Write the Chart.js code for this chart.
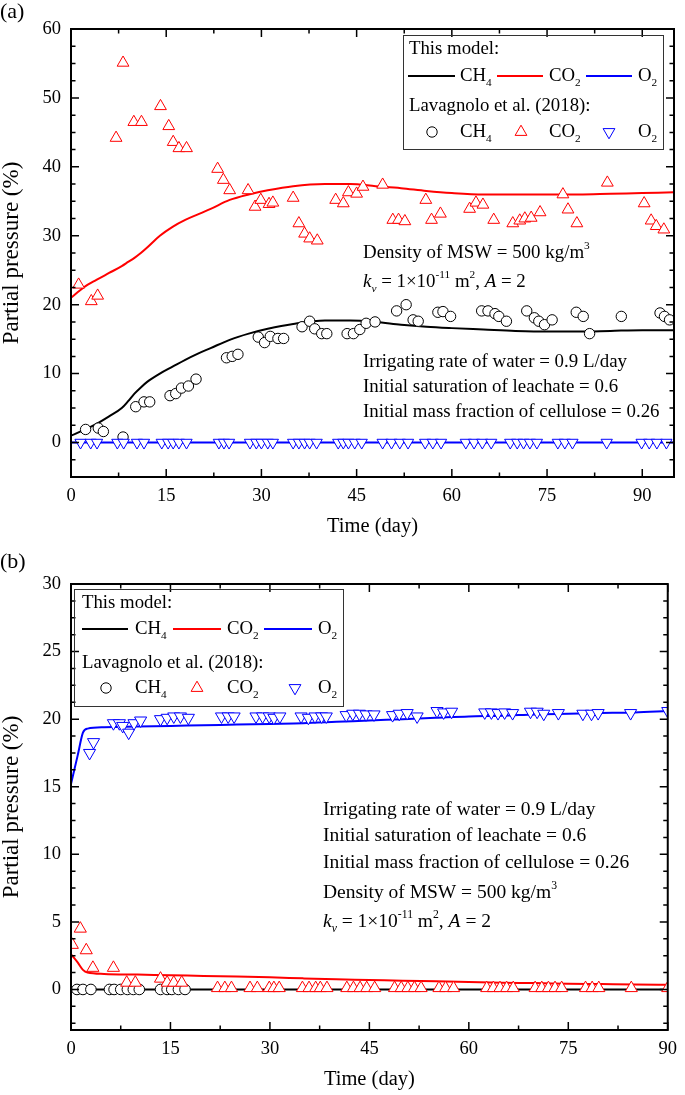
<!DOCTYPE html>
<html>
<head>
<meta charset="utf-8">
<script src="https://cdn.jsdelivr.net/npm/chart.js@4.4.1/dist/chart.umd.min.js"></script>
<style>
  html, body { margin: 0; padding: 0; background: #fff; }
  canvas { display: block; }
</style>
</head>
<body>
<canvas id="chartA" width="685" height="548"></canvas>
<canvas id="chartB" width="685" height="547"></canvas>
<script>
// ---------- panel (a) ----------
const aXTicks = [0, 15, 30, 45, 60, 75, 90];
const aYTicks = [0, 10, 20, 30, 40, 50, 60];

const aModelDays = [0, 2, 4, 6, 8, 9, 10, 11, 12, 14, 16, 18, 20, 22, 25, 28, 31, 35, 40, 44, 48, 52, 56, 60, 65, 70, 75, 80, 85, 90, 95];
const aModelCH4 = [1.0, 1.8, 2.7, 3.8, 5.0, 6.0, 7.1, 8.0, 8.8, 10.0, 11.0, 12.0, 12.9, 13.7, 14.9, 15.8, 16.5, 17.2, 17.7, 17.7, 17.5, 17.1, 16.8, 16.6, 16.4, 16.2, 16.1, 16.1, 16.2, 16.3, 16.3];
const aModelCO2 = [21.0, 22.5, 23.6, 24.6, 25.6, 26.2, 26.8, 27.5, 28.3, 30.0, 31.3, 32.3, 33.1, 33.9, 35.2, 36.0, 36.6, 37.2, 37.5, 37.5, 37.2, 36.9, 36.5, 36.2, 36.0, 36.0, 36.0, 36.0, 36.1, 36.2, 36.3];
const aModelO2Days = [0, 95];
const aModelO2 = [0, 0];

const aCH4Days = [2.3, 4.3, 5.1, 8.2, 10.2, 11.5, 12.4, 15.6, 16.5, 17.4, 18.5, 19.7, 24.5, 25.4, 26.3, 29.5, 30.5, 31.4, 32.6, 33.5, 36.4, 37.6, 38.4, 39.5, 40.3, 43.5, 44.5, 45.5, 46.5, 47.9, 51.3, 52.8, 53.9, 54.7, 57.8, 58.6, 59.8, 64.7, 65.7, 66.8, 67.4, 68.6, 71.8, 73.0, 73.7, 74.6, 75.8, 79.6, 80.7, 81.7, 86.7, 92.8, 93.5, 94.3];
const aCH4Vals = [1.9, 2.1, 1.6, 0.8, 5.2, 5.9, 5.9, 6.8, 7.1, 7.9, 8.2, 9.2, 12.3, 12.5, 12.8, 15.3, 14.5, 15.4, 15.1, 15.1, 16.8, 17.6, 16.5, 15.8, 15.8, 15.8, 15.8, 16.4, 17.3, 17.5, 19.1, 20.0, 17.8, 17.6, 18.9, 19.0, 18.3, 19.1, 19.1, 18.7, 18.3, 17.6, 19.1, 18.1, 17.6, 17.1, 17.8, 18.9, 18.3, 15.8, 18.3, 18.8, 18.3, 17.8];

const aCO2Days = [1.2, 3.2, 4.2, 7.1, 8.2, 9.9, 11.1, 14.1, 15.4, 16.1, 17.0, 18.2, 23.1, 24.0, 25.0, 27.9, 29.0, 29.9, 31.2, 31.8, 35.0, 35.9, 36.8, 37.6, 38.8, 41.7, 42.9, 43.7, 45.0, 46.0, 49.1, 50.7, 51.6, 52.6, 55.9, 56.8, 58.2, 62.8, 63.8, 64.9, 66.6, 69.6, 70.7, 71.5, 72.5, 73.9, 77.5, 78.3, 79.7, 84.5, 90.3, 91.4, 92.2, 93.4];
const aCO2Vals = [22.9, 20.5, 21.3, 44.2, 55.1, 46.5, 46.5, 48.8, 45.9, 43.6, 42.7, 42.7, 39.7, 38.1, 36.6, 36.6, 34.2, 35.2, 34.6, 34.8, 35.5, 31.8, 30.3, 29.6, 29.3, 35.2, 34.7, 36.3, 36.1, 37.1, 37.4, 32.3, 32.3, 32.1, 35.2, 32.3, 33.2, 33.9, 34.8, 34.5, 32.3, 31.8, 32.2, 32.5, 32.6, 33.4, 36.0, 33.8, 31.8, 37.7, 34.7, 32.2, 31.4, 30.9];

const aO2Days = [1.5, 3.1, 4.1, 7.3, 8.3, 10.4, 11.5, 14.3, 15.3, 16.1, 17.0, 18.2, 23.3, 24.1, 24.9, 28.2, 29.2, 30.0, 31.0, 31.8, 35.0, 35.9, 36.8, 37.6, 38.7, 42.1, 42.9, 43.7, 44.7, 45.8, 49.1, 50.5, 51.8, 53.1, 55.8, 57.0, 58.3, 62.2, 63.5, 64.8, 66.2, 69.2, 70.3, 71.3, 72.3, 73.4, 76.7, 77.8, 79.0, 84.4, 89.9, 91.1, 92.3, 93.8];
const aO2Vals = [0, 0, 0, 0, 0, 0, 0, 0, 0, 0, 0, 0, 0, 0, 0, 0, 0, 0, 0, 0, 0, 0, 0, 0, 0, 0, 0, 0, 0, 0, 0, 0, 0, 0, 0, 0, 0, 0, 0, 0, 0, 0, 0, 0, 0, 0, 0, 0, 0, 0, 0, 0, 0, 0];

// ---------- panel (b) ----------
const bXTicks = [0, 15, 30, 45, 60, 75, 90];
const bYTicks = [0, 5, 10, 15, 20, 25, 30];

const bModelDays = [0, 1, 1.8, 2.5, 5, 10, 15, 20, 25, 30, 35, 40, 45, 50, 55, 60, 65, 70, 75, 80, 85, 90];
const bModelO2 = [15.2, 17.3, 19.0, 19.3, 19.4, 19.45, 19.5, 19.55, 19.6, 19.65, 19.7, 19.8, 19.9, 20.0, 20.1, 20.2, 20.25, 20.35, 20.4, 20.45, 20.5, 20.6];
const bModelCO2 = [2.6, 2.0, 1.45, 1.25, 1.15, 1.1, 1.05, 1.0, 0.95, 0.9, 0.82, 0.75, 0.7, 0.64, 0.6, 0.55, 0.5, 0.47, 0.43, 0.4, 0.37, 0.35];
const bModelCH4Days = [0, 90];
const bModelCH4 = [0, 0];

const bO2Days = [2.8, 3.4, 6.4, 7.3, 7.8, 8.7, 9.5, 10.5, 13.5, 14.5, 15.5, 16.5, 17.7, 22.7, 23.7, 24.6, 27.9, 28.9, 29.9, 30.6, 31.5, 34.7, 35.8, 36.8, 37.8, 38.5, 41.5, 42.5, 43.5, 44.5, 45.7, 48.5, 49.5, 50.7, 52.2, 55.2, 56.2, 57.4, 62.4, 63.4, 64.4, 65.4, 66.6, 69.3, 70.3, 71.3, 73.5, 77.2, 78.5, 79.5, 84.4, 90.0];
const bO2Vals = [17.5, 18.3, 19.7, 19.7, 19.5, 19.0, 19.7, 19.9, 20.0, 20.1, 20.2, 20.2, 20.1, 20.2, 20.2, 20.2, 20.2, 20.2, 20.2, 20.1, 20.2, 20.2, 20.1, 20.2, 20.2, 20.2, 20.3, 20.4, 20.4, 20.35, 20.35, 20.3, 20.4, 20.45, 20.2, 20.6, 20.5, 20.55, 20.5, 20.5, 20.45, 20.5, 20.45, 20.55, 20.55, 20.4, 20.45, 20.4, 20.4, 20.45, 20.45, 20.6];

const bCO2Days = [0.2, 1.4, 2.3, 3.3, 6.4, 8.4, 9.7, 13.5, 14.5, 15.5, 16.7, 22.1, 23.2, 24.2, 27.0, 28.1, 29.9, 30.6, 31.4, 34.9, 35.9, 36.9, 37.6, 38.6, 41.6, 42.6, 43.6, 44.6, 45.8, 48.8, 49.8, 50.8, 51.8, 52.8, 55.5, 56.5, 57.7, 62.7, 63.7, 64.7, 65.7, 66.7, 70.0, 71.0, 72.0, 73.0, 74.0, 77.6, 78.6, 79.6, 84.5, 90.0];
const bCO2Vals = [3.3, 4.5, 2.9, 1.6, 1.6, 0.5, 0.5, 0.8, 0.5, 0.5, 0.5, 0.1, 0.1, 0.1, 0.1, 0.1, 0.1, 0.1, 0.1, 0.1, 0.1, 0.1, 0.1, 0.1, 0.1, 0.1, 0.1, 0.1, 0.1, 0.1, 0.1, 0.1, 0.1, 0.1, 0.1, 0.1, 0.1, 0.1, 0.1, 0.1, 0.1, 0.1, 0.1, 0.1, 0.1, 0.1, 0.1, 0.1, 0.1, 0.1, 0.1, 0.1];

const bCH4Days = [0.9, 1.8, 3.0, 5.8, 6.5, 7.5, 8.5, 9.4, 10.3, 13.5, 14.5, 15.2, 16.2, 17.2];
const bCH4Vals = [0, 0, 0, 0, 0, 0, 0, 0, 0, 0, 0, 0, 0, 0];

const SERIF = '"Liberation Serif", "Times New Roman", serif';

function pts(xs, ys){ return xs.map((x, i) => ({ x, y: ys[i] })); }

// draw a run of text pieces: [text, kind] kind = '' | 'i' | 'sub' | 'sup' | 'isub'
function drawRich(ctx, x, y, parts, size){
  let cx = x;
  parts.forEach(([t, k]) => {
    const small = (k === 'sub' || k === 'sup' || k === 'isub');
    const fs = small ? size * 0.6 : size;
    const italic = (k === 'i' || k === 'isub');
    ctx.font = (italic ? 'italic ' : '') + fs + 'px ' + SERIF;
    let dy = 0;
    if(k === 'sub' || k === 'isub') dy = size * 0.38;
    if(k === 'sup') dy = -size * 0.38;
    ctx.fillText(t, cx, y + dy);
    cx += ctx.measureText(t).width;
  });
}

function drawMarker(ctx, style, x, y){
  ctx.beginPath();
  if(style === 'circle'){
    ctx.arc(x, y, 5.2, 0, Math.PI * 2);
  } else {
    const r = 6.8, s = style === 'down' ? -1 : 1;
    ctx.moveTo(x, y - s * r);
    ctx.lineTo(x + r * 0.866, y + s * r / 2);
    ctx.lineTo(x - r * 0.866, y + s * r / 2);
    ctx.closePath();
  }
  ctx.fill(); ctx.stroke();
}

// frame round the plot with inward major + minor ticks on all four sides
const frameTicks = {
  id: 'frameTicks',
  afterDatasetsDraw(chart, args, o){
    const { ctx, chartArea: a } = chart;
    const xs = chart.scales.x, ys = chart.scales.y;
    ctx.save();
    ctx.strokeStyle = '#000';
    ctx.lineWidth = 1.5;
    ctx.beginPath();
    const isMajor = (v, m) => Math.abs(v / m - Math.round(v / m)) < 1e-6;
    for(let v = Math.ceil(xs.min / o.xMinor - 1e-9) * o.xMinor; v <= xs.max + 1e-9; v += o.xMinor){
      const px = xs.getPixelForValue(v);
      const len = isMajor(v, o.xMajor) ? 8 : 4.5;
      ctx.moveTo(px, a.bottom); ctx.lineTo(px, a.bottom - len);
      ctx.moveTo(px, a.top); ctx.lineTo(px, a.top + len);
    }
    for(let v = Math.ceil(ys.min / o.yMinor - 1e-9) * o.yMinor; v <= ys.max + 1e-9; v += o.yMinor){
      const py = ys.getPixelForValue(v);
      const len = isMajor(v, o.yMajor) ? 8 : 4.5;
      ctx.moveTo(a.left, py); ctx.lineTo(a.left + len, py);
      ctx.moveTo(a.right, py); ctx.lineTo(a.right - len, py);
    }
    ctx.stroke();
    ctx.lineWidth = 2;
    ctx.strokeRect(a.left, a.top, a.right - a.left, a.bottom - a.top);
    ctx.restore();
  }
};

// legend box, notes and panel letter
const notesPlugin = {
  id: 'notes',
  afterDraw(chart, args, o){
    const ctx = chart.ctx;
    ctx.save();
    ctx.fillStyle = '#000';
    ctx.textBaseline = 'middle';
    ctx.textAlign = 'left';
    ctx.font = '22px ' + SERIF;
    ctx.fillText(o.letter, 0, o.letterY);

    const L = o.legend;
    ctx.strokeStyle = '#333';
    ctx.lineWidth = 1;
    ctx.strokeRect(L.box[0] + 0.5, L.box[1] + 0.5, L.box[2] - L.box[0], L.box[3] - L.box[1]);
    drawRich(ctx, L.textX, L.rows[0], [['This model:', '']], o.legendSize);
    drawRich(ctx, L.textX, L.rows[2], [['Lavagnolo et al. (2018):', '']], o.legendSize);
    const labels = [[['CH', ''], ['4', 'sub']], [['CO', ''], ['2', 'sub']], [['O', ''], ['2', 'sub']]];
    const colors = ['#000', '#ff0000', '#0000ff'];
    const styles = ['circle', 'up', 'down'];
    for(let i = 0; i < 3; i++){
      ctx.strokeStyle = colors[i];
      ctx.lineWidth = 2;
      ctx.beginPath();
      ctx.moveTo(L.lineX[i][0], L.rows[1]); ctx.lineTo(L.lineX[i][1], L.rows[1]);
      ctx.stroke();
      ctx.fillStyle = '#000';
      drawRich(ctx, L.labelX[i], L.rows[1], labels[i], o.legendSize);
      ctx.lineWidth = 1;
      ctx.fillStyle = '#fff';
      drawMarker(ctx, styles[i], L.markX[i], L.rows[3]);
      ctx.fillStyle = '#000';
      drawRich(ctx, L.labelX[i], L.rows[3], labels[i], o.legendSize);
    }
    o.notes.forEach(n => drawRich(ctx, o.notesX, n[0], n[1], o.size));
    ctx.restore();
  }
};

const density = [['Density of MSW = 500 kg/m', ''], ['3', 'sup']];
const kv = [['k', 'i'], ['v', 'isub'], [' = 1\u00d710', ''], ['-11', 'sup'], [' m', ''], ['2', 'sup'], [', ', ''], ['A', 'i'], [' = 2', '']];
const irrig = [['Irrigating rate of water = 0.9 L/day', '']];
const satur = [['Initial saturation of leachate = 0.6', '']];
const cellu = [['Initial mass fraction of cellulose = 0.26', '']];

function lineSet(label, xs, ys, color){
  return { label, data: pts(xs, ys), showLine: true, borderColor: color, borderWidth: 2,
    pointRadius: 0, cubicInterpolationMode: 'monotone', fill: false, order: 10 };
}
function markSet(label, xs, ys, color, style, rot, order, r){
  return { label, data: pts(xs, ys), showLine: false, pointStyle: style, pointRotation: rot,
    pointRadius: r, borderColor: color, backgroundColor: '#fff',
    pointBorderWidth: 1, borderWidth: 1, order };
}

function makeChart(id, cfg){
  const H = cfg.height;
  return new Chart(document.getElementById(id), {
    type: 'scatter',
    data: { datasets: cfg.datasets },
    options: {
      responsive: false, animation: false, devicePixelRatio: 1,
      layout: { padding: { top: cfg.top, right: cfg.right, left: 0, bottom: 0 } },
      plugins: { legend: { display: false }, tooltip: { enabled: false },
        frameTicks: cfg.ticks, notes: cfg.notes },
      scales: {
        x: {
          type: 'linear', min: cfg.xMin, max: cfg.xMax,
          afterBuildTicks: s => { s.ticks = cfg.xTicks.map(v => ({ value: v })); },
          afterFit: s => { s.height = H - cfg.bottom; },
          grid: { display: false, drawTicks: false }, border: { display: false },
          ticks: { color: '#000', padding: 8, maxRotation: 0, font: { family: SERIF, size: 18.5 } },
          title: { display: true, text: 'Time (day)', color: '#000', padding: { top: 0, bottom: cfg.titlePad },
            font: { family: SERIF, size: 20.5, lineHeight: 1.2 } }
        },
        y: {
          type: 'linear', min: cfg.yMin, max: cfg.yMax,
          afterBuildTicks: s => { s.ticks = cfg.yTicks.map(v => ({ value: v })); },
          afterFit: s => { s.width = cfg.left; },
          grid: { display: false, drawTicks: false }, border: { display: false },
          ticks: { color: '#000', padding: 10, font: { family: SERIF, size: 18.5 } },
          title: { display: true, text: 'Partial pressure (%)', color: '#000', padding: 0,
            font: { family: SERIF, size: 23, lineHeight: 1.05 } }
        }
      }
    },
    plugins: [frameTicks, notesPlugin]
  });
}

makeChart('chartA', {
  height: 548, top: 29, right: 11, left: 71, bottom: 477, titlePad: 9,
  xMin: 0, xMax: 95, yMin: -5, yMax: 60, xTicks: aXTicks, yTicks: aYTicks,
  ticks: { xMinor: 7.5, xMajor: 15, yMinor: 2.5, yMajor: 10 },
  datasets: [
    markSet('CO2 (Lavagnolo et al.)', aCO2Days, aCO2Vals, '#ff0000', 'triangle', 0, 1, 6.8),
    markSet('O2 (Lavagnolo et al.)', aO2Days, aO2Vals, '#0000ff', 'triangle', 180, 1, 6.5),
    markSet('CH4 (Lavagnolo et al.)', aCH4Days, aCH4Vals, '#000', 'circle', 0, 2, 5.2),
    lineSet('CH4 model', aModelDays, aModelCH4, '#000'),
    lineSet('CO2 model', aModelDays, aModelCO2, '#ff0000'),
    lineSet('O2 model', aModelO2Days, aModelO2, '#0000ff')
  ],
  notes: {
    letter: '(a)', letterY: 12, size: 18.9, legendSize: 18.8,
    legend: { box: [403, 35, 663, 149], textX: 409, rows: [49, 76, 106, 132],
      lineX: [[408, 455], [497, 543], [586, 632]], labelX: [460, 549, 638], markX: [432, 521, 609] },
    notesX: 363,
    notes: [[253, density], [282, kv], [362, irrig], [387, satur], [412, cellu]]
  }
});

makeChart('chartB', {
  height: 547, top: 36, right: 9, left: 71, bottom: 482, titlePad: 3,
  xMin: 0, xMax: 90, yMin: -3, yMax: 30, xTicks: bXTicks, yTicks: bYTicks,
  ticks: { xMinor: 7.5, xMajor: 15, yMinor: 1.25, yMajor: 5 },
  datasets: [
    markSet('CO2 (Lavagnolo et al.)', bCO2Days, bCO2Vals, '#ff0000', 'triangle', 0, 1, 7),
    markSet('O2 (Lavagnolo et al.)', bO2Days, bO2Vals, '#0000ff', 'triangle', 180, 1, 7),
    markSet('CH4 (Lavagnolo et al.)', bCH4Days, bCH4Vals, '#000', 'circle', 0, 2, 5.3),
    lineSet('CH4 model', bModelCH4Days, bModelCH4, '#000'),
    lineSet('CO2 model', bModelDays, bModelCO2, '#ff0000'),
    lineSet('O2 model', bModelDays, bModelO2, '#0000ff')
  ],
  notes: {
    letter: '(b)', letterY: 14, size: 19.5, legendSize: 18.8,
    legend: { box: [74, 41, 343, 158], textX: 82, rows: [55, 81, 115, 140],
      lineX: [[82, 128], [173, 221], [264, 312]], labelX: [135, 227, 318], markX: [106, 197, 295] },
    notesX: 323,
    notes: [[262, irrig], [288, satur], [315, cellu], [345, density], [374, kv]]
  }
});
</script>
</body>
</html>
